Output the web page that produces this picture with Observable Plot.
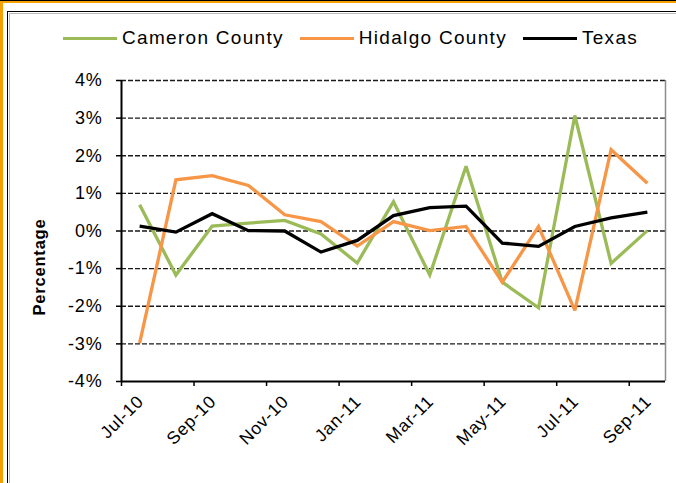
<!DOCTYPE html>
<html><head><meta charset="utf-8">
<script src="https://cdn.jsdelivr.net/npm/d3@7"></script>
<script src="https://cdn.jsdelivr.net/npm/@observablehq/plot@0.6"></script>
<style>
body{margin:0;background:#fff;}
#wrap{position:relative;width:676px;height:483px;overflow:hidden;background:#fff;font-family:"Liberation Sans",Arial,sans-serif;}
.bar{position:absolute;}
#chart{position:absolute;left:0;top:0;}
#chart svg text{letter-spacing:0.8px;}
#legend{position:absolute;left:63px;top:27px;height:22px;display:flex;align-items:center;font-size:19px;letter-spacing:1.3px;color:#000;white-space:nowrap;}
#legend .sw{display:inline-block;width:54px;height:3px;margin-right:5px;}
#legend .item{display:flex;align-items:center;margin-right:16px;}
</style></head><body>
<div id="wrap">
  <div class="bar" style="left:0;top:0;width:676px;height:1px;background:#000"></div>
  <div class="bar" style="left:0;top:1px;width:676px;height:2px;background:#f5a000"></div>
  <div class="bar" style="left:0;top:1px;width:2.5px;height:482px;background:#f5a000"></div>
  <div class="bar" style="left:7px;top:11px;width:700px;height:500px;border-left:1.5px solid #000;border-top:1.5px solid #000;box-sizing:border-box"></div>
  <div class="bar" style="left:8.5px;top:12.5px;width:700px;height:500px;border-left:1px solid #bbb;border-top:1px solid #bbb;box-sizing:border-box"></div>
  <div id="chart"></div>
  <div id="legend"></div>
</div>
<script>
const months = ["Jul-10","Aug-10","Sep-10","Oct-10","Nov-10","Dec-10","Jan-11","Feb-11","Mar-11","Apr-11","May-11","Jun-11","Jul-11","Aug-11","Sep-11"];
const cameron = [0.70,-1.17,0.13,0.21,0.28,-0.08,-0.85,0.78,-1.17,1.72,-1.36,-2.04,3.07,-0.86,0.01];
const hidalgo = [-2.98,1.36,1.47,1.21,0.43,0.25,-0.40,0.25,0.01,0.12,-1.36,0.12,-2.11,2.16,1.27];
const texas = [0.13,-0.03,0.46,0.01,0.0,-0.56,-0.25,0.41,0.62,0.66,-0.32,-0.41,0.12,0.35,0.50];
const seriesNames = ["Cameron County","Hidalgo County","Texas"];
const seriesColors = ["#9bbb59","#f79646","#000000"];
const yTicks = [-4,-3,-2,-1,0,1,2,3,4];
const xTickLabels = ["Jul-10","Sep-10","Nov-10","Jan-11","Mar-11","May-11","Jul-11","Sep-11"];

const n = months.length;
const yMin = yTicks[0], yMax = yTicks[yTicks.length-1];
const seriesValues = [cameron, hidalgo, texas];
const center = (d, i) => i + 0.5;

const plot = Plot.plot({
  width: 676, height: 483,
  marginLeft: 121, marginRight: 11, marginTop: 80, marginBottom: 102,
  x: {type: "linear", domain: [0, n], axis: null},
  y: {domain: [yMin, yMax], axis: null},
  style: {fontFamily: '"Liberation Sans", Arial, sans-serif', background: "transparent", color: "#000"},
  marks: [
    Plot.ruleY(yTicks.filter(t => t > yMin), {stroke: "#1a1a1a", strokeWidth: 1.4, strokeDasharray: "5,2"}),
    Plot.ruleX([n], {y1: yMin, y2: yMax, stroke: "#8c8c8c", strokeWidth: 1.5}),
    ...seriesValues.map((vals, k) => Plot.line(vals, {
      x: center, y: d => d, stroke: seriesColors[k], strokeWidth: 3.3,
      strokeLinejoin: "miter", strokeMiterlimit: 3, strokeLinecap: "butt"
    })),
    Plot.ruleY([yMin], {stroke: "#000", strokeWidth: 2}),
    Plot.ruleX([0], {y1: yMin, y2: yMax, stroke: "#000", strokeWidth: 2}),
    Plot.axisY({ticks: yTicks, tickSize: 5, tickPadding: 14, strokeWidth: 1.5, tickFormat: d => `${d}%`, fontSize: 18, anchor: "left"}),
    Plot.axisX({ticks: d3.range(0, n, 2), tickSize: 5, strokeWidth: 1.5, tickFormat: () => "", anchor: "bottom"}),
    Plot.text(xTickLabels, {x: d => months.indexOf(d) + 0.5, y: () => yMin, rotate: -45, textAnchor: "end", dx: 1, dy: 17, fontSize: 17.5}),
    Plot.text(["Percentage"], {frameAnchor: "bottom-left", rotate: -90, textAnchor: "start", dx: -77, dy: -66, fontWeight: "bold", fontSize: 16.5})
  ]
});
document.getElementById("chart").appendChild(plot);

const legend = document.getElementById("legend");
seriesNames.forEach((name, k) => {
  const item = document.createElement("div");
  item.className = "item";
  const sw = document.createElement("span");
  sw.className = "sw";
  sw.style.background = seriesColors[k];
  const label = document.createElement("span");
  label.textContent = name;
  item.appendChild(sw);
  item.appendChild(label);
  legend.appendChild(item);
});
</script>
</body></html>
